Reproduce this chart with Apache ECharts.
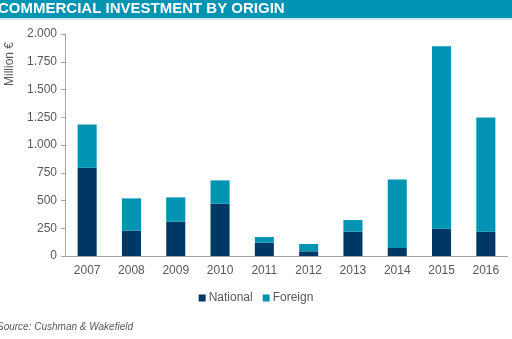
<!DOCTYPE html>
<html><head><meta charset="utf-8">
<script src="https://cdn.jsdelivr.net/npm/echarts@6/dist/echarts.min.js"></script>
<style>html,body{margin:0;padding:0;background:#fff}#c{width:512px;height:339px}</style>
</head><body><div id="c"></div>
<script>
const years = ['2007','2008','2009','2010','2011','2012','2013','2014','2015','2016'];
const national = [795, 228, 309, 471, 120, 42, 219, 72, 246, 219];
const foreign = [390, 291, 219, 210, 51, 66, 105, 618, 1644, 1028];
const yTicks = [0, 250, 500, 750, 1000, 1250, 1500, 1750, 2000];

const chart = echarts.init(document.getElementById('c'));
const fmt = v => v >= 1000 ? Math.floor(v/1000) + '.' + String(v%1000).padStart(3,'0') : String(v);
chart.setOption({
  animation: false,
  textStyle: {fontFamily: 'Liberation Sans, Arial, sans-serif'},
  graphic: [
    {type:'rect', shape:{x:0,y:0,width:512,height:18}, style:{fill:'#0093b2'}},
    {type:'rect', shape:{x:0,y:18,width:512,height:2}, style:{fill:'#cfe9f0'}},
    {type:'text', left:-2, top:1, style:{text:'COMMERCIAL INVESTMENT BY ORIGIN', fill:'#fff', font:'bold 15px "Liberation Sans", Arial, sans-serif'}},
    {type:'text', left:-3, top:322, style:{text:'Source: Cushman & Wakefield', fill:'#595959', font:'italic 10px "Liberation Sans", Arial, sans-serif'}},
    {type:'text', x:4, y:86, rotation:Math.PI/2, style:{text:'Million €', fill:'#595959', font:'12px "Liberation Sans", Arial, sans-serif'}}
  ],
  grid: {left: 65, right: 4, top: 34, bottom: 83},
  legend: {
    bottom: 30, left: 'center', itemWidth: 7, itemHeight: 7, itemGap: 10,
    icon: 'rect',
    textStyle: {color:'#595959', fontSize: 12, padding:[0,0,0,-2]},
    data: ['National','Foreign']
  },
  xAxis: {
    type: 'category', data: years,
    axisLine: {lineStyle: {color: '#a6a6a6'}},
    axisTick: {show: false},
    axisLabel: {color: '#595959', fontSize: 12, margin: 9}
  },
  yAxis: {
    type: 'value', min: 0, max: 2000, interval: 250,
    axisLine: {show: true, lineStyle: {color: '#a6a6a6'}},
    axisTick: {show: true, length: 4, lineStyle:{color:'#a6a6a6'}},
    splitLine: {show: false},
    axisLabel: {color: '#595959', fontSize: 12, margin: 8, formatter: v => yTicks.includes(v) ? fmt(v) : ''}
  },
  series: [
    {name:'National', type:'bar', stack:'a', data: national, barWidth: '43%', itemStyle:{color:'#003865'}},
    {name:'Foreign', type:'bar', stack:'a', data: foreign, barWidth: '43%', itemStyle:{color:'#0093b2'}}
  ]
});
</script></body></html>
